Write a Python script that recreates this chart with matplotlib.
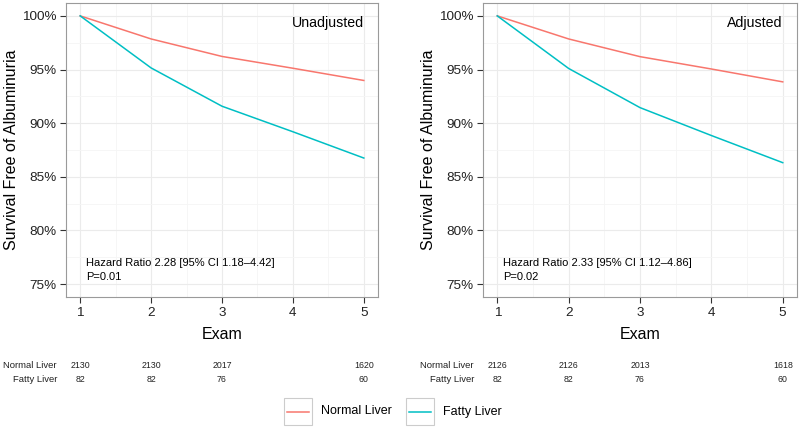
import matplotlib
matplotlib.use("Agg")
import matplotlib.pyplot as plt
import matplotlib.transforms as mtransforms
from matplotlib.patches import Rectangle
from matplotlib.lines import Line2D
from matplotlib.ticker import FuncFormatter, MultipleLocator

plt.rcParams['font.family'] = ['Liberation Sans', 'DejaVu Sans']

exams = [1, 2, 3, 4, 5]
groups = ["Normal Liver", "Fatty Liver"]
colors = ["#F8766D", "#00BFC4"]

unadj_normal = [100.0, 97.85, 96.22, 95.12, 93.98]
unadj_fatty = [100.0, 95.15, 91.58, 89.2, 86.75]
adj_normal = [100.0, 97.85, 96.2, 95.05, 93.85]
adj_fatty = [100.0, 95.1, 91.45, 88.85, 86.32]

risk_exams = [1, 2, 3, 5]
unadj_risk_normal = ["2130", "2130", "2017", "1620"]
unadj_risk_fatty = ["82", "82", "76", "60"]
adj_risk_normal = ["2126", "2126", "2013", "1618"]
adj_risk_fatty = ["82", "82", "76", "60"]

panels = [
    dict(title="Unadjusted", normal=unadj_normal, fatty=unadj_fatty,
         hr="Hazard Ratio 2.28 [95% CI 1.18\u20134.42]", p="P=0.01",
         rn=unadj_risk_normal, rf=unadj_risk_fatty),
    dict(title="Adjusted", normal=adj_normal, fatty=adj_fatty,
         hr="Hazard Ratio 2.33 [95% CI 1.12\u20134.86]", p="P=0.02",
         rn=adj_risk_normal, rf=adj_risk_fatty),
]

W, H = 800, 429
fig = plt.figure(figsize=(8, 4.29), dpi=100)

ax_px = [(66, 378), (483, 797)]
top_px, bot_px = 3, 297

for (l, r), pnl in zip(ax_px, panels):
    ax = fig.add_axes([l / W, (H - bot_px) / H, (r - l) / W, (bot_px - top_px) / H])
    ax.set_xlim(0.8, 5.2)
    ax.set_ylim(73.8, 101.2)
    ax.yaxis.set_major_locator(MultipleLocator(5))
    ax.yaxis.set_minor_locator(MultipleLocator(2.5))
    ax.xaxis.set_major_locator(MultipleLocator(1))
    ax.xaxis.set_minor_locator(MultipleLocator(0.5))
    ax.yaxis.set_major_formatter(FuncFormatter(lambda v, pos: f"{v:.0f}%"))
    ax.grid(which='major', color='#EBEBEB', lw=0.8)
    ax.grid(which='minor', color='#F5F5F5', lw=0.6)
    ax.set_axisbelow(True)
    for s in ax.spines.values():
        s.set_color('#9A9A9A')
        s.set_linewidth(0.8)
    ax.tick_params(which='major', length=4, width=0.8, color='#333333',
                   labelsize=9.7, labelcolor='#222222', pad=3)
    ax.tick_params(which='minor', length=0)
    ax.plot(exams, pnl["normal"], color=colors[0], lw=1.1)
    ax.plot(exams, pnl["fatty"], color=colors[1], lw=1.1)
    ax.set_xlabel("Exam", fontsize=11.5, labelpad=6)
    ax.set_ylabel("Survival Free of Albuminuria", fontsize=11.5, labelpad=2)
    ax.text(5.0, 99.3, pnl["title"], ha='right', va='center', fontsize=10.2)
    ax.text(1.08, 77.0, pnl["hr"], ha='left', va='center', fontsize=8)
    ax.text(1.08, 75.7, pnl["p"], ha='left', va='center', fontsize=8)

    tr = mtransforms.blended_transform_factory(ax.transData, fig.transFigure)
    y1 = 1 - 365 / H
    y2 = 1 - 379 / H
    for xe, a, b in zip(risk_exams, pnl["rn"], pnl["rf"]):
        ax.text(xe, y1, a, transform=tr, ha='center', va='center', fontsize=6.3,
                color='#222222', clip_on=False)
        ax.text(xe, y2, b, transform=tr, ha='center', va='center', fontsize=6.3,
                color='#222222', clip_on=False)
    lab_x = (l - 9) / W
    fig.text(lab_x, y1, groups[0], ha='right', va='center', fontsize=6.8, color='#222222')
    fig.text(lab_x, y2, groups[1], ha='right', va='center', fontsize=6.8, color='#222222')

# legend
lax = fig.add_axes([0, 0, 1, 1], facecolor='none')
lax.set_xlim(0, W)
lax.set_ylim(H, 0)
lax.axis('off')
for x0, txt_x, c, g in [(284, 321, colors[0], groups[0]), (406, 443, colors[1], groups[1])]:
    lax.add_patch(Rectangle((x0, 398), 28, 27, fc='white', ec='#CCCCCC', lw=0.8))
    lax.add_line(Line2D([x0 + 3, x0 + 25], [411.5, 411.5], color=c, lw=1.1))
    lax.text(txt_x, 411.5, g, ha='left', va='center', fontsize=9)

fig.savefig("out.png", dpi=100)
